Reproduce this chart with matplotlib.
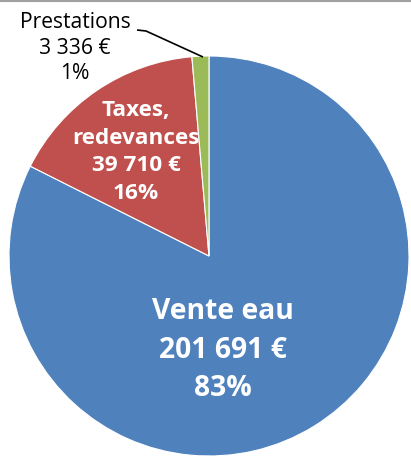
import matplotlib
matplotlib.use("Agg")
import matplotlib.pyplot as plt

categories = ["Vente eau", "Taxes,\nredevances", "Prestations"]
values = [201691, 39710, 3336]
pct_labels = [83, 16, 1]
colors = ["#4F81BD", "#C0504D", "#9BBB59"]

W, H = 411, 459
fig = plt.figure(figsize=(W / 100, H / 100), dpi=100)
ax = fig.add_axes([0, 0, 1, 1])

cx, cy, r = 209, H - 256, 200
ax.pie(values, colors=colors, startangle=90, counterclock=False,
       center=(cx, cy), radius=r, frame=True,
       wedgeprops=dict(edgecolor="white", linewidth=0.8))
ax.set_xlim(0, W)
ax.set_ylim(0, H)
ax.set_aspect("equal")
ax.axis("off")

def fmt(v):
    return f"{v:,}".replace(",", " ") + " €"

font = "Open Sans"
# Vente eau
ax.text(223, H - 350, f"{categories[0]}\n{fmt(values[0])}\n{pct_labels[0]}%",
        ha="center", va="center", color="white", fontsize=20.3, fontweight="bold",
        family=font, linespacing=1.45)
# Taxes
ax.text(136, H - 152, f"{categories[1]}\n{fmt(values[1])}\n{pct_labels[1]}%",
        ha="center", va="center", color="white", fontsize=16.2, fontweight="bold",
        family=font, linespacing=1.42)
# Prestations
ax.text(75, H - 48, f"{categories[2]}\n{fmt(values[2])}\n{pct_labels[2]}%",
        ha="center", va="center", color="black", fontsize=15.2,
        family=font, linespacing=1.3)
# leader line
ax.plot([137, 146, 203], [H - 30, H - 31, H - 57], color="black", lw=1.2,
        solid_capstyle="butt")
# top border
ax.plot([0, W], [H - 0.5, H - 0.5], color="#A0A0A0", lw=1.5)

fig.savefig("out.png", dpi=100)
